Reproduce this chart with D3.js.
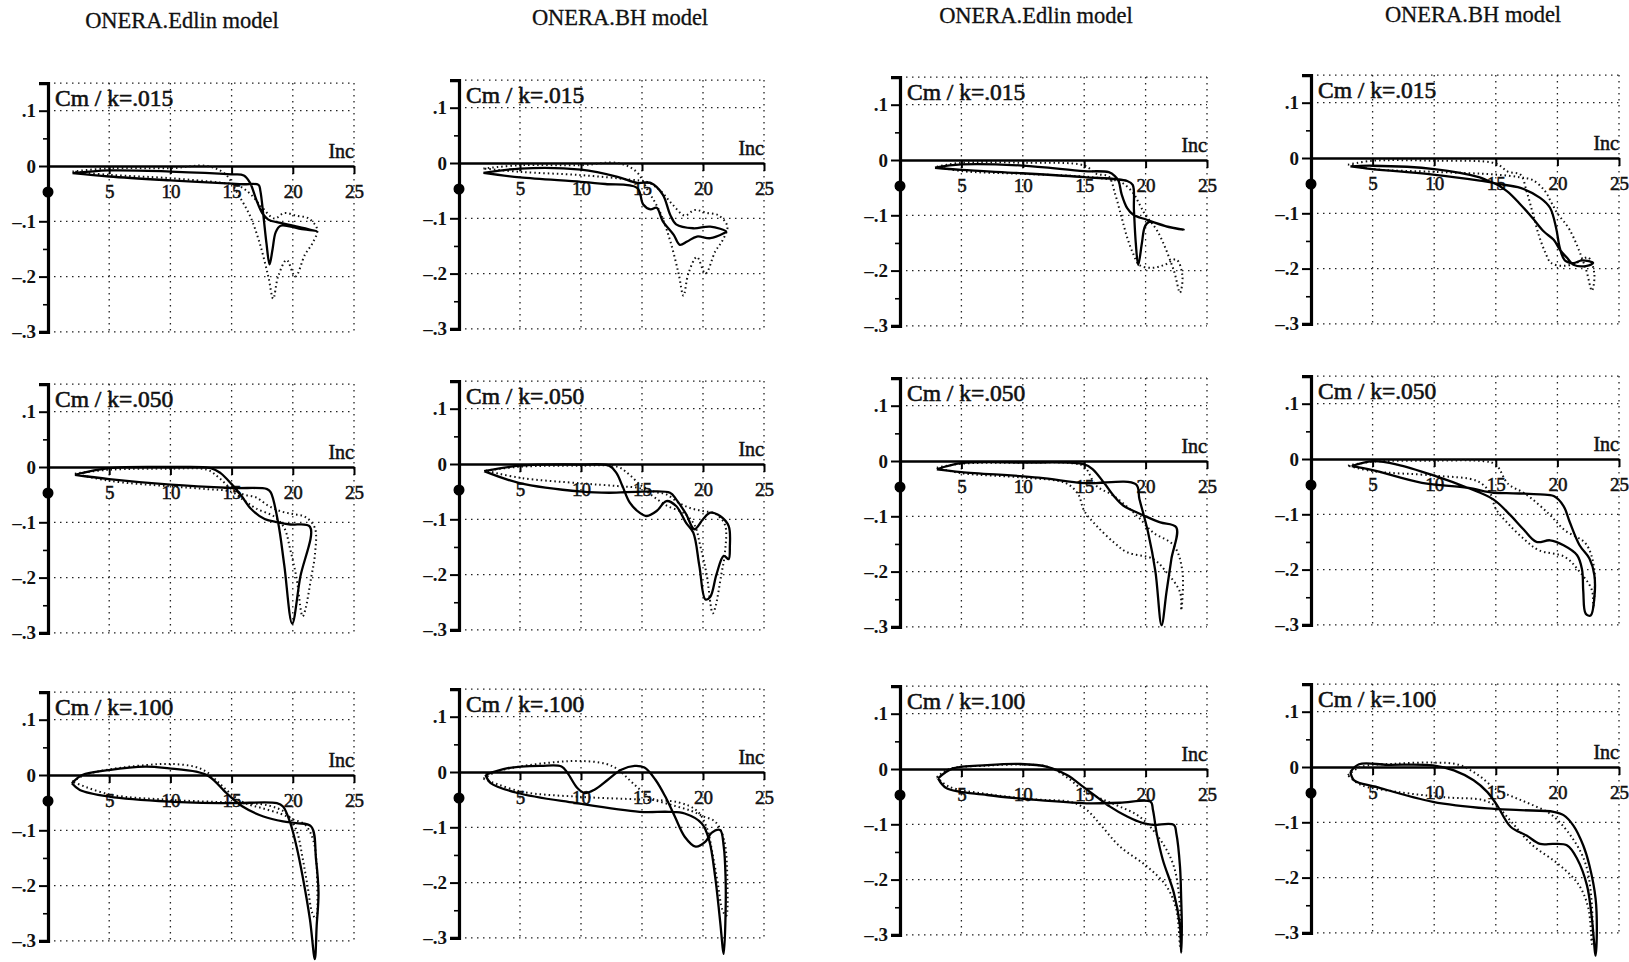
<!DOCTYPE html>
<html><head><meta charset="utf-8">
<script src="https://cdn.jsdelivr.net/npm/d3@7"></script>
<style>body{margin:0;background:#fff} svg{display:block}</style>
</head><body>
<svg id="c" width="1629" height="962"></svg>
<script>
// ---------- text / ticks ----------
const titles = ["ONERA.Edlin model", "ONERA.BH model", "ONERA.Edlin model", "ONERA.BH model"];
const kLabels = ["Cm / k=.015", "Cm / k=.050", "Cm / k=.100"];
const xTicks = [5, 10, 15, 20, 25];
const yTicks = [0.1, 0, -0.1, -0.2, -0.3];
const yTickLabels = [".1", "0", "–.1", "–.2", "–.3"];
const yGrid = [0.15, 0.1, -0.1, -0.2, -0.3];
const yMinor = [0.05, -0.05, -0.15, -0.25];
const markerCm = -0.047;

// ---------- experiment (dotted), shared by the two models of a case ----------
const expA015 = [[2,-0.01],[5,-0.004],[10,-0.004],[13,0.0],[14.5,-0.015],[15.5,-0.05],[16.5,-0.09],[17.3,-0.14],[18,-0.2],[18.4,-0.24],[18.8,-0.2],[19.5,-0.17],[20.2,-0.2],[21,-0.16],[21.6,-0.14],[22,-0.115],[21.3,-0.095],[20.3,-0.09],[19.3,-0.085],[18.5,-0.095],[17.5,-0.075],[16.5,-0.05],[15.5,-0.035],[14,-0.03],[10,-0.022],[5,-0.016],[2,-0.01]];
const expA050 = [[2.2,-0.012],[5,-0.005],[10,-0.003],[13,-0.005],[14,-0.02],[15,-0.04],[16,-0.05],[17,-0.055],[18,-0.07],[19,-0.08],[20,-0.085],[21,-0.09],[21.8,-0.11],[21.8,-0.16],[21.5,-0.2],[21.0,-0.26],[20.8,-0.27],[20.3,-0.2],[19.8,-0.15],[19.3,-0.11],[18.5,-0.09],[17,-0.075],[16,-0.06],[15,-0.045],[13,-0.04],[10,-0.035],[5,-0.025],[2.2,-0.012]];
const expA100 = [[2,-0.012],[3,0.0],[5,0.01],[8,0.018],[10,0.02],[12,0.015],[13,0.005],[14,-0.015],[15,-0.035],[16,-0.05],[17.5,-0.06],[19,-0.07],[20,-0.08],[21,-0.09],[21.7,-0.12],[22,-0.2],[21.9,-0.26],[21.6,-0.25],[21.2,-0.2],[20.8,-0.15],[20.3,-0.1],[19.5,-0.07],[18,-0.055],[15,-0.05],[10,-0.045],[5,-0.035],[2,-0.012]];
const expB015 = [[3,-0.012],[5,-0.005],[10,-0.005],[15,-0.01],[16,-0.025],[17,-0.03],[17.5,-0.06],[18,-0.1],[18.5,-0.14],[19,-0.17],[19.5,-0.19],[20.5,-0.195],[21.5,-0.19],[22.5,-0.18],[23,-0.21],[22.8,-0.24],[22.3,-0.2],[21,-0.13],[20,-0.1],[19.5,-0.08],[19,-0.06],[18,-0.04],[17,-0.035],[15,-0.03],[10,-0.025],[5,-0.02],[3,-0.012]];
const expB050 = [[3,-0.012],[5,-0.005],[10,-0.003],[14,-0.004],[15,-0.01],[16,-0.045],[17.4,-0.063],[19.3,-0.099],[20.6,-0.129],[22.3,-0.153],[23,-0.2],[22.9,-0.27],[22.8,-0.237],[21.7,-0.201],[20.6,-0.177],[18.5,-0.165],[17.4,-0.147],[16,-0.117],[15,-0.09],[14.5,-0.06],[13.5,-0.04],[10,-0.03],[5,-0.022],[3,-0.012]];
const expB100 = [[3,-0.015],[4,0.0],[7,0.006],[10,0.008],[12,0.004],[13.6,-0.015],[15,-0.04],[16.5,-0.055],[17.9,-0.068],[19.5,-0.086],[21.2,-0.128],[22.3,-0.176],[22.8,-0.25],[22.8,-0.32],[22.5,-0.254],[21.7,-0.212],[20.1,-0.176],[17.9,-0.14],[16.3,-0.1],[15.2,-0.074],[14,-0.06],[11,-0.055],[7,-0.045],[4,-0.032],[3,-0.015]];

// ---------- models (solid) ----------
const edlinA015 = [[2,-0.013],[5,-0.008],[10,-0.01],[15,-0.015],[16,-0.017],[16.5,-0.03],[17,-0.06],[17.5,-0.085],[18,-0.097],[19,-0.103],[20,-0.108],[22,-0.118],[20.5,-0.113],[19,-0.108],[18.6,-0.12],[18.35,-0.15],[18.1,-0.178],[17.85,-0.14],[17.6,-0.09],[17.35,-0.045],[17.2,-0.034],[16,-0.033],[15,-0.032],[10,-0.026],[5,-0.019],[2,-0.013]];
const bhA015 = [[2,-0.018],[5,-0.01],[10,-0.012],[13,-0.025],[14.6,-0.036],[15.7,-0.036],[16.7,-0.057],[17.3,-0.093],[17.8,-0.111],[19.2,-0.118],[20.6,-0.115],[21.9,-0.124],[21.7,-0.127],[20.6,-0.136],[19.5,-0.133],[18.7,-0.142],[18.1,-0.148],[17.6,-0.13],[16.7,-0.105],[16.2,-0.081],[15.7,-0.084],[15.1,-0.075],[14.6,-0.045],[12,-0.038],[10,-0.034],[5,-0.026],[2,-0.018]];
const edlinB015 = [[2.85,-0.014],[5,-0.008],[10,-0.01],[15,-0.02],[17,-0.022],[17.5,-0.029],[17.8,-0.038],[18.05,-0.062],[18.5,-0.087],[19,-0.099],[20.1,-0.108],[21.7,-0.12],[23.1,-0.126],[22,-0.122],[20.3,-0.112],[19.95,-0.12],[19.7,-0.15],[19.4,-0.19],[19.2,-0.15],[19.05,-0.09],[18.95,-0.045],[18.5,-0.038],[15,-0.031],[10,-0.024],[5,-0.018],[2.85,-0.014]];
const bhB015 = [[3.2,-0.015],[5,-0.014],[10,-0.02],[13.7,-0.035],[14.8,-0.045],[17,-0.054],[18.6,-0.072],[19.4,-0.09],[19.9,-0.127],[20.2,-0.163],[20.6,-0.185],[21.3,-0.19],[22,-0.185],[22.9,-0.19],[22.4,-0.195],[21.3,-0.193],[20.8,-0.181],[20.2,-0.166],[19.7,-0.148],[18.9,-0.133],[18,-0.109],[17,-0.084],[15.9,-0.06],[14.8,-0.045],[13.7,-0.041],[9.9,-0.03],[5,-0.02],[3.2,-0.015]];
const edlinA050 = [[2.2,-0.014],[5,-0.022],[10,-0.032],[15,-0.038],[17.9,-0.04],[18.2,-0.046],[18.8,-0.1],[19.3,-0.177],[19.95,-0.283],[20.6,-0.2],[21.4,-0.108],[19.8,-0.104],[18.8,-0.1],[17.7,-0.094],[16.6,-0.076],[15.8,-0.052],[15,-0.031],[14.1,-0.011],[13.3,-0.002],[10,0],[5,-0.002],[2.2,-0.014]];
const bhA050 = [[2.06,-0.013],[4.9,-0.034],[10.1,-0.05],[12.3,-0.052],[15.1,-0.05],[17.3,-0.052],[17.8,-0.064],[18.6,-0.09],[19.3,-0.118],[20,-0.1],[20.6,-0.088],[21.4,-0.094],[22.1,-0.112],[22.2,-0.15],[22.1,-0.172],[21.7,-0.166],[21.1,-0.2],[20.6,-0.24],[20.2,-0.245],[19.7,-0.184],[19.2,-0.124],[18.6,-0.106],[17.8,-0.076],[17,-0.067],[16.2,-0.085],[15.4,-0.094],[14.8,-0.088],[14,-0.07],[13.4,-0.04],[12.9,-0.016],[12.3,-0.003],[10,-0.001],[5,-0.003],[2.06,-0.013]];
const edlinB050 = [[3,-0.015],[5,-0.02],[11.3,-0.03],[15,-0.04],[19.2,-0.042],[19.5,-0.069],[20.2,-0.129],[20.8,-0.2],[21.3,-0.297],[21.7,-0.237],[22.1,-0.177],[22.5,-0.12],[21.2,-0.111],[20.2,-0.102],[19.3,-0.093],[18.2,-0.081],[17.4,-0.063],[16.6,-0.039],[15.7,-0.015],[15,-0.006],[10,-0.003],[5,-0.004],[3,-0.015]];
const bhB050 = [[3.3,-0.013],[5,-0.02],[9,-0.043],[12.7,-0.052],[14.8,-0.061],[16.4,-0.062],[18.6,-0.064],[19.7,-0.067],[20.5,-0.085],[21,-0.114],[21.8,-0.156],[22.6,-0.18],[23,-0.21],[23,-0.251],[22.7,-0.283],[22.3,-0.28],[22.1,-0.239],[22,-0.2],[21.6,-0.174],[20.5,-0.156],[19.4,-0.147],[18.3,-0.15],[17.2,-0.126],[16.2,-0.102],[14.8,-0.073],[12.7,-0.052],[10,-0.03],[7,-0.01],[5,-0.004],[3.3,-0.013]];
const edlinA100 = [[1.95,-0.015],[2.8,0],[4.96,0.009],[7.97,0.015],[9.9,0.012],[12.1,0.006],[13.2,-0.003],[14.6,-0.033],[15.9,-0.057],[17.6,-0.075],[19.2,-0.084],[20.3,-0.087],[21.5,-0.093],[21.9,-0.153],[22.1,-0.213],[21.95,-0.273],[21.8,-0.333],[21.4,-0.261],[20.8,-0.183],[20.3,-0.129],[19.8,-0.087],[19.2,-0.057],[18.7,-0.051],[14.8,-0.051],[9.9,-0.048],[5,-0.039],[2.6,-0.027],[1.95,-0.015]];
const bhA100 = [[2.17,-0.005],[4,0.007],[6.7,0.011],[8.4,0.01],[8.9,-0.002],[9.7,-0.029],[10.3,-0.038],[11.1,-0.032],[12.2,-0.014],[13.3,0.004],[14.4,0.011],[15.2,0.008],[16.1,-0.014],[16.9,-0.044],[17.7,-0.081],[18.5,-0.117],[19.4,-0.135],[20.2,-0.126],[20.7,-0.11],[21.4,-0.105],[21.7,-0.135],[21.85,-0.19],[21.85,-0.256],[21.7,-0.329],[21.4,-0.269],[21,-0.19],[20.5,-0.123],[19.9,-0.093],[18.5,-0.075],[17.2,-0.072],[14.8,-0.072],[9.5,-0.056],[4.8,-0.038],[2.6,-0.02],[2.17,-0.005]];
const edlinB100 = [[3.1,-0.017],[4.3,0.001],[7.1,0.007],[9.8,0.009],[12,0.004],[13.6,-0.011],[14.9,-0.032],[16,-0.05],[17.1,-0.068],[18.5,-0.086],[19.8,-0.098],[20.6,-0.101],[22.3,-0.101],[22.5,-0.116],[22.8,-0.176],[22.9,-0.236],[22.95,-0.284],[22.9,-0.332],[22.8,-0.284],[22.3,-0.224],[21.4,-0.164],[20.9,-0.116],[20.6,-0.074],[20.4,-0.059],[17.9,-0.061],[15.2,-0.062],[11.1,-0.056],[7.1,-0.047],[3.8,-0.035],[3.1,-0.017]];
const bhB100 = [[3.2,-0.009],[3.9,0.005],[6.2,0.004],[9.9,0.003],[11.6,-0.006],[13.2,-0.024],[14.3,-0.045],[15.1,-0.069],[16.2,-0.108],[17.5,-0.124],[18.6,-0.139],[19.7,-0.139],[20.8,-0.142],[21.6,-0.166],[22.4,-0.214],[22.8,-0.274],[23.1,-0.341],[23.2,-0.3],[23.1,-0.238],[22.6,-0.178],[22.1,-0.142],[21.3,-0.106],[20.5,-0.087],[19.7,-0.081],[17,-0.078],[14.3,-0.075],[9.9,-0.063],[5.3,-0.036],[3.5,-0.024],[3.2,-0.009]];

const models = [
  [edlinA015, bhA015, edlinB015, bhB015],
  [edlinA050, bhA050, edlinB050, bhB050],
  [edlinA100, bhA100, edlinB100, bhB100]
];
const exps = [
  [expA015, expA015, expB015, expB015],
  [expA050, expA050, expB050, expB050],
  [expA100, expA100, expB100, expB100]
];

// ---------- layout ----------
const svg = d3.select("#c");
const FONT = "'Liberation Serif','Times New Roman',serif";
const colX0 = [48, 459, 900, 1311];
const colW = [306, 305, 307, 308];
const rowY0 = [166, 467, 775];
const colShift = [0, -3, -6, -8];
const unit = 553;
const titleX = [182, 620, 1036, 1473];
const titleY = [28, 25, 23, 22];

titles.forEach((t, c) => {
  svg.append("text").attr("x", titleX[c]).attr("y", titleY[c])
    .attr("text-anchor", "middle").attr("font-family", FONT).attr("font-size", 22.5)
    .attr("fill", "#111").attr("stroke", "#111").attr("stroke-width", 0.3).text(t);
});

const line = d3.line().curve(d3.curveCatmullRom.alpha(0.5));

for (let r = 0; r < 3; r++) {
  for (let c = 0; c < 4; c++) {
    const x0 = colX0[c], y0 = rowY0[r] + colShift[c];
    const x = d3.scaleLinear().domain([0, 25]).range([x0, x0 + colW[c]]);
    const y = d3.scaleLinear().domain([0.15, -0.3]).range([y0 - 0.15 * unit, y0 + 0.3 * unit]);
    const g = svg.append("g");

    // dotted grid
    const grid = g.append("g").attr("stroke", "#222").attr("stroke-width", 1.3)
      .attr("stroke-dasharray", "1.5,4.5").attr("fill", "none");
    xTicks.forEach(v => grid.append("line").attr("x1", x(v)).attr("x2", x(v))
      .attr("y1", y(0.15)).attr("y2", y(-0.3)));
    yGrid.forEach(v => grid.append("line").attr("x1", x(0)).attr("x2", x(25))
      .attr("y1", y(v)).attr("y2", y(v)));

    // y axis
    const ya = g.append("g").attr("transform", `translate(${x(0)},0)`)
      .call(d3.axisLeft(y).tickValues(yTicks).tickFormat((d, i) => yTickLabels[i])
        .tickSize(9).tickSizeOuter(9).tickPadding(3));
    ya.select(".domain").attr("stroke", "#000").attr("stroke-width", 3.2);
    ya.selectAll(".tick line").attr("stroke", "#000").attr("stroke-width", 2);
    ya.selectAll("text").attr("font-family", FONT).attr("font-size", 19)
      .attr("font-weight", "bold").attr("fill", "#111");
    const ym = g.append("g").attr("transform", `translate(${x(0)},0)`)
      .call(d3.axisLeft(y).tickValues(yMinor).tickFormat("").tickSize(5).tickSizeOuter(0));
    ym.select(".domain").remove();
    ym.selectAll(".tick line").attr("stroke", "#000").attr("stroke-width", 1.6);

    // x axis on Cm = 0
    const xa = g.append("g").attr("transform", `translate(0,${y(0)})`)
      .call(d3.axisBottom(x).tickValues(xTicks).tickSize(8).tickSizeOuter(0).tickPadding(11));
    xa.select(".domain").attr("stroke", "#000").attr("stroke-width", 2.4);
    xa.selectAll(".tick line").attr("stroke", "#000").attr("stroke-width", 2);
    xa.selectAll("text").attr("font-family", FONT).attr("font-size", 19).attr("fill", "#111")
      .attr("stroke", "#111").attr("stroke-width", 0.5);

    // labels
    g.append("text").attr("x", x(25)).attr("y", y(0) - 8).attr("text-anchor", "end")
      .attr("font-family", FONT).attr("font-size", 20).attr("fill", "#111")
      .attr("stroke", "#111").attr("stroke-width", 0.5).text("Inc");
    g.append("text").attr("x", x(0) + 7).attr("y", y(0.15) + 23)
      .attr("font-family", FONT).attr("font-size", 23.5).attr("fill", "#111")
      .attr("stroke", "#111").attr("stroke-width", 0.6).text(kLabels[r]);

    // experiment (dotted)
    g.append("path").datum(exps[r][c].map(d => [x(d[0]), y(d[1])]))
      .attr("d", line).attr("fill", "none").attr("stroke", "#111")
      .attr("stroke-width", 2).attr("stroke-dasharray", "1.5,3");
    // model (solid)
    g.append("path").datum(models[r][c].map(d => [x(d[0]), y(d[1])]))
      .attr("d", line).attr("fill", "none").attr("stroke", "#000")
      .attr("stroke-width", 2.3).attr("stroke-linejoin", "round");

    // marker on axis
    g.append("circle").attr("cx", x(0)).attr("cy", y(markerCm)).attr("r", 5.5).attr("fill", "#000");
  }
}
</script>
</body></html>
